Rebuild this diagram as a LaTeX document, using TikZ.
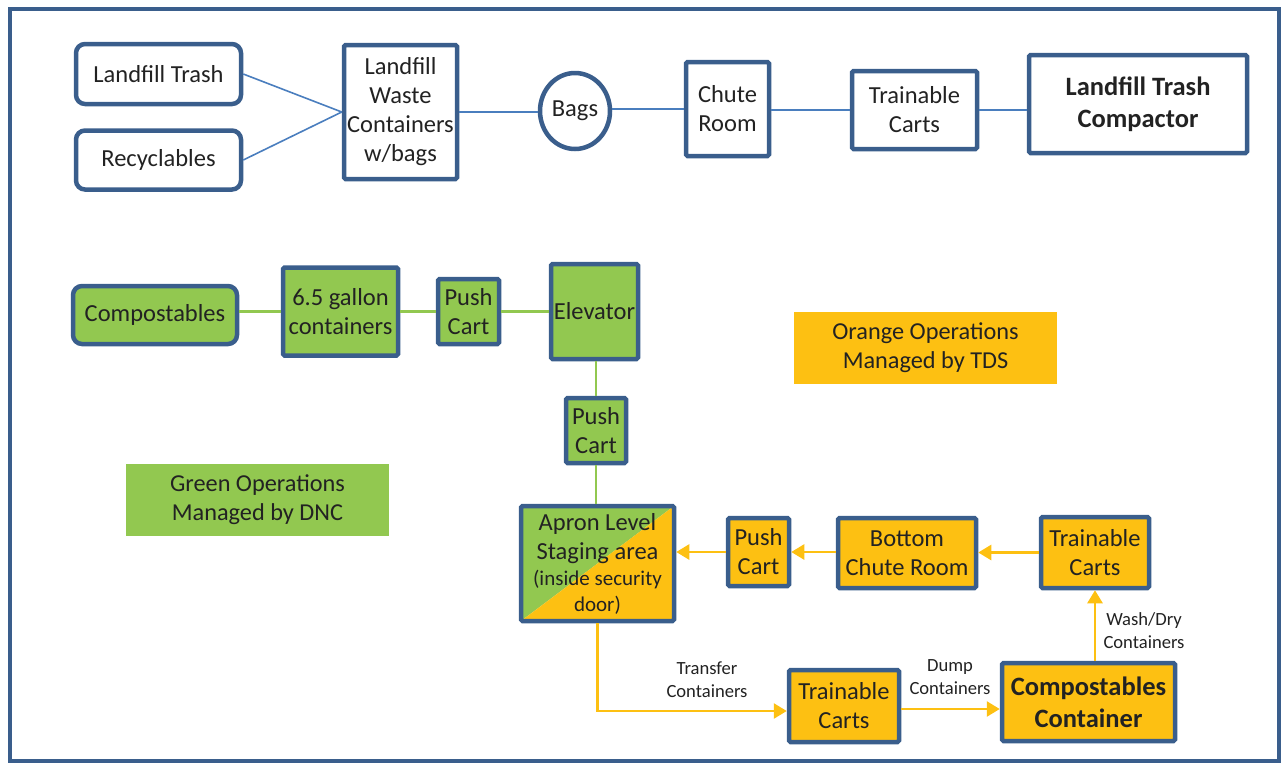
\documentclass[tikz,border=0pt]{standalone}
\usepackage{fontspec}
\setmainfont{Carlito}
\usetikzlibrary{arrows.meta,shapes.geometric}
\definecolor{bordc}{RGB}{58,94,140}
\definecolor{linec}{RGB}{74,126,190}
\definecolor{grn}{RGB}{146,200,80}
\definecolor{org}{RGB}{253,192,18}
\definecolor{txt}{RGB}{34,34,34}
\tikzset{
 box/.style={draw=bordc, line width=4.5pt, align=center, inner sep=0pt, rounded corners=1.5pt, font=\fontsize{24.5}{29}\selectfont, text=txt},
 rbox/.style={box, rounded corners=9pt},
 gbox/.style={box, fill=grn},
 obox/.style={box, fill=org},
 bline/.style={draw=linec, line width=1.6pt},
 gline/.style={draw=grn, line width=2.6pt},
 oarr/.style={draw=org, line width=2.6pt, -{Triangle[length=13pt,width=15pt]}},
 lbl/.style={font=\fontsize{18.6}{23}\selectfont, text=txt, align=center, inner sep=0pt},
 legend/.style={align=center, inner sep=0pt, minimum width=263, minimum height=72, font=\fontsize{24.3}{29}\selectfont, text=txt}
}
\begin{document}
\begin{tikzpicture}[x=1pt,y=-1pt]
\useasboundingbox (0,0) rectangle (1283,764);
\draw[bordc, line width=4pt] (10,9) rectangle (1279,761);
% top row
\node[rbox, minimum width=165, minimum height=60] (lt) at (158.5,74) {Landfill Trash};
\node[rbox, minimum width=165, minimum height=59] (rec) at (158.5,160) {Recyclables};
\node[box, minimum width=113, minimum height=134] (lwc) at (400.5,112) {Landfill\\Waste\\Containers\\w/bags};
\node[box, ellipse, minimum width=70, minimum height=76] (bags) at (575,111) {Bags};
\node[box, minimum width=83, minimum height=94] (chute) at (727.5,109) {Chute\\Room};
\node[box, minimum width=125, minimum height=78] (tc1) at (914.5,110) {Trainable\\Carts};
\node[box, minimum width=218, minimum height=98, font=\fontsize{26.5}{32}\selectfont\bfseries] (comp) at (1138,104) {Landfill Trash\\Compactor};
\draw[bline] (lt.east) -- (lwc.west);
\draw[bline] (rec.east) -- (lwc.west);
\draw[bline] (lwc.east) -- (lwc.east -| bags.west);
\draw[bline] (bags.east |- chute.west) -- (chute.west);
\draw[bline] (chute.east |- tc1.west) -- (tc1.west);
\draw[bline] (tc1.east) -- (tc1.east -| comp.west);
% green row
\node[rbox, fill=grn, minimum width=164, minimum height=58] (cmp) at (155,315) {Compostables};
\node[gbox, minimum width=115, minimum height=88] (gal) at (340.5,311.5) {6.5 gallon\\containers};
\node[gbox, minimum width=61, minimum height=65] (pc1) at (468.5,311.5) {Push\\Cart};
\node[gbox, minimum width=87, minimum height=95] (elev) at (594.5,311.5) {Elevator};
\node[gbox, minimum width=60, minimum height=65] (pc2) at (596,430.5) {Push\\Cart};
\node[box, minimum width=153, minimum height=115,
  path picture={
   \fill[grn] (path picture bounding box.south west) -- (path picture bounding box.north west) -- (path picture bounding box.north east) -- cycle;
   \fill[org] (path picture bounding box.south west) -- (path picture bounding box.north east) -- (path picture bounding box.south east) -- cycle;}]
  (apron) at (597.5,563.5) {Apron Level\\Staging area\\[-3pt]{\fontsize{21}{26}\selectfont (inside security}\\[-3pt]{\fontsize{21}{26}\selectfont door)}};
\draw[gline] (gal.west -| cmp.east) -- (gal.west);
\draw[gline] (gal.east) -- (pc1.west);
\draw[gline] (pc1.east) -- (elev.west);
\draw[gline] (pc2.north |- elev.south) -- (pc2.north);
\draw[gline] (pc2.south) -- (pc2.south |- apron.north);
% legends
\node[legend, fill=grn] (lg) at (257.5,500) {Green Operations\\Managed by DNC};
\node[legend, fill=org] (lo) at (925.5,348) {Orange Operations\\Managed by TDS};
% orange row
\node[obox, minimum width=61, minimum height=68] (pc3) at (758.5,552) {Push\\Cart};
\node[obox, minimum width=138, minimum height=70] (bcr) at (907,553) {Bottom\\Chute Room};
\node[obox, minimum width=108, minimum height=71] (tc2) at (1095,552.5) {Trainable\\Carts};
\node[obox, minimum width=110, minimum height=72] (tc3) at (844,706) {Trainable\\Carts};
\node[obox, minimum width=173, minimum height=78, font=\fontsize{26.5}{32}\selectfont\bfseries] (cc) at (1088.5,702) {Compostables\\Container};
\draw[oarr] (tc2.west) -- (tc2.west -| bcr.east);
\draw[oarr] (bcr.west |- pc3.east) -- (pc3.east);
\draw[oarr] (pc3.west) -- (pc3.west -| apron.east);
\coordinate (tin) at ([yshift=-5pt]tc3.west);
\draw[oarr] (apron.south) |- (tin);
\coordinate (cin) at ([yshift=-7pt]cc.west);
\draw[oarr] (cin -| tc3.east) -- (cin);
\draw[oarr] (tc2.south |- cc.north) -- (tc2.south);
\node[lbl] (l1) at (707,680) {Transfer\\Containers};
\node[lbl] (l2) at (950,677) {Dump\\Containers};
\node[lbl] (l3) at (1144,631) {Wash/Dry\\Containers};
\end{tikzpicture}
\end{document}
